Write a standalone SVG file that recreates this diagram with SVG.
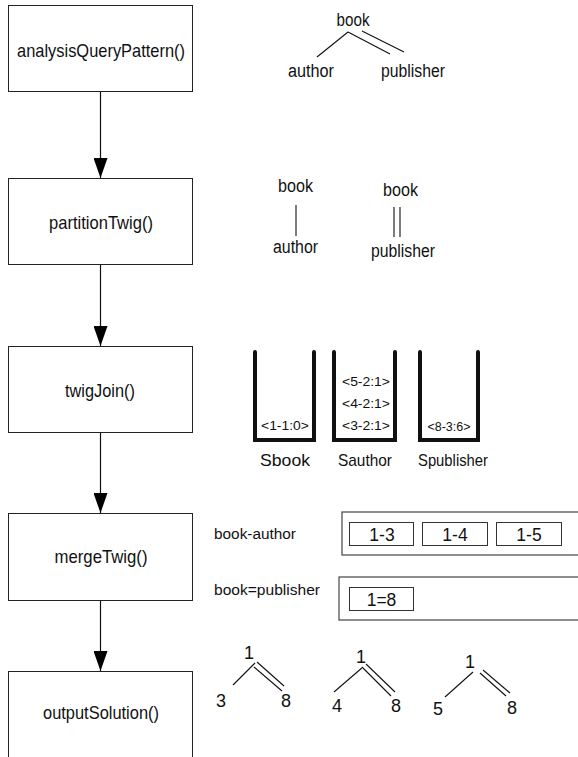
<svg xmlns="http://www.w3.org/2000/svg" width="578" height="757" viewBox="0 0 578 757">
  <style>
    text { font-family: "Liberation Sans", Arial, sans-serif; fill: #111; }
    .step rect { fill: #fff; stroke: #222; stroke-width: 1; }
    .step text { font-size: 19px; text-anchor: middle; }
    .edge { stroke: #111; stroke-width: 1.2; fill: none; }
    .tree text { font-size: 18px; text-anchor: middle; }
    .tree line { stroke: #111; stroke-width: 1.1; }
    .stack path { fill: none; stroke: #111; stroke-width: 4; stroke-linecap: round; stroke-linejoin: miter; }
    .stack .entry { font-size: 13px; text-anchor: middle; }
    .stack .name { font-size: 17px; text-anchor: middle; }
    .list .outer { fill: #fff; stroke: #444; stroke-width: 1.2; }
    .list .cell { fill: #fff; stroke: #333; stroke-width: 1; }
    .list .label { font-size: 15.5px; }
    .list .val { font-size: 17.5px; text-anchor: middle; }
    .num text { font-size: 18px; text-anchor: middle; }
  </style>
  <defs>
    <marker id="arrowBig" viewBox="0 0 20 14" refX="20" refY="7" markerWidth="20" markerHeight="14" markerUnits="userSpaceOnUse" orient="auto">
      <path d="M0,0 L20,7 L0,14 Z" fill="#000"/>
    </marker>
  </defs>

  <!-- pipeline steps -->
  <g id="step-analysis" class="step">
    <rect x="8.5" y="5.5" width="184" height="86"/>
    <text x="101" y="57" textLength="168" lengthAdjust="spacingAndGlyphs">analysisQueryPattern()</text>
  </g>
  <g id="step-partition" class="step">
    <rect x="8.5" y="178.5" width="184" height="86"/>
    <text x="101" y="229" textLength="104" lengthAdjust="spacingAndGlyphs">partitionTwig()</text>
  </g>
  <g id="step-twigjoin" class="step">
    <rect x="8.5" y="346.5" width="184" height="86"/>
    <text x="100" y="397" textLength="70" lengthAdjust="spacingAndGlyphs">twigJoin()</text>
  </g>
  <g id="step-merge" class="step">
    <rect x="8.5" y="513.5" width="184" height="87"/>
    <text x="101" y="563" textLength="93" lengthAdjust="spacingAndGlyphs">mergeTwig()</text>
  </g>
  <g id="step-output" class="step">
    <rect x="8.5" y="671.5" width="184" height="100"/>
    <text x="101" y="719" textLength="116" lengthAdjust="spacingAndGlyphs">outputSolution()</text>
  </g>

  <!-- flow between steps -->
  <g id="connectors">
    <line class="edge" x1="100.5" y1="92" x2="100.5" y2="178" marker-end="url(#arrowBig)"/>
    <line class="edge" x1="100.5" y1="265" x2="100.5" y2="346" marker-end="url(#arrowBig)"/>
    <line class="edge" x1="100.5" y1="433" x2="100.5" y2="513" marker-end="url(#arrowBig)"/>
    <line class="edge" x1="100.5" y1="601" x2="100.5" y2="671" marker-end="url(#arrowBig)"/>
  </g>

  <!-- query twig -->
  <g id="query-twig" class="tree">
    <text x="353" y="26" textLength="33" lengthAdjust="spacingAndGlyphs">book</text>
    <text x="311" y="77" textLength="46" lengthAdjust="spacingAndGlyphs">author</text>
    <text x="413" y="77" textLength="64" lengthAdjust="spacingAndGlyphs">publisher</text>
    <line x1="348" y1="32" x2="317" y2="57"/>
    <line x1="348" y1="32" x2="390" y2="54"/>
    <line x1="362" y1="31" x2="404" y2="52"/>
  </g>

  <!-- partitioned sub-twigs -->
  <g id="part-book-author" class="tree">
    <text x="295.5" y="192" textLength="35" lengthAdjust="spacingAndGlyphs">book</text>
    <line x1="296" y1="205" x2="296" y2="236"/>
    <text x="295.5" y="253" textLength="45" lengthAdjust="spacingAndGlyphs">author</text>
  </g>
  <g id="part-book-publisher" class="tree">
    <text x="400.5" y="196" textLength="35" lengthAdjust="spacingAndGlyphs">book</text>
    <line x1="394" y1="207" x2="394" y2="237"/>
    <line x1="400" y1="207" x2="400" y2="237"/>
    <text x="403" y="257" textLength="64" lengthAdjust="spacingAndGlyphs">publisher</text>
  </g>

  <!-- stacks -->
  <g id="stack-book" class="stack">
    <path d="M255,352 V440 H314 V352"/>
    <text class="entry" x="285" y="430" textLength="48" lengthAdjust="spacingAndGlyphs">&lt;1-1:0&gt;</text>
    <text class="name" x="285" y="466" textLength="50" lengthAdjust="spacingAndGlyphs">Sbook</text>
  </g>
  <g id="stack-author" class="stack">
    <path d="M334,352 V440 H395 V352"/>
    <text class="entry" x="366" y="386" textLength="48" lengthAdjust="spacingAndGlyphs">&lt;5-2:1&gt;</text>
    <text class="entry" x="366" y="408" textLength="48" lengthAdjust="spacingAndGlyphs">&lt;4-2:1&gt;</text>
    <text class="entry" x="366" y="430" textLength="48" lengthAdjust="spacingAndGlyphs">&lt;3-2:1&gt;</text>
    <text class="name" x="365" y="466" textLength="54" lengthAdjust="spacingAndGlyphs">Sauthor</text>
  </g>
  <g id="stack-publisher" class="stack">
    <path d="M420,352 V440 H478 V352"/>
    <text class="entry" x="449" y="431" textLength="43" lengthAdjust="spacingAndGlyphs">&lt;8-3:6&gt;</text>
    <text class="name" x="453" y="466" textLength="70" lengthAdjust="spacingAndGlyphs">Spublisher</text>
  </g>

  <!-- merged path lists -->
  <g id="list-book-author" class="list">
    <text class="label" x="214" y="539" textLength="82" lengthAdjust="spacingAndGlyphs">book-author</text>
    <rect class="outer" x="342" y="512" width="250" height="43"/>
    <rect class="cell" x="349.5" y="522.5" width="64" height="23"/>
    <text class="val" x="382" y="541">1-3</text>
    <rect class="cell" x="422.5" y="522.5" width="65" height="23"/>
    <text class="val" x="455" y="541">1-4</text>
    <rect class="cell" x="496.5" y="522.5" width="65" height="23"/>
    <text class="val" x="529" y="541">1-5</text>
  </g>
  <g id="list-book-publisher" class="list">
    <text class="label" x="214" y="595" textLength="106" lengthAdjust="spacingAndGlyphs">book=publisher</text>
    <rect class="outer" x="339" y="577" width="250" height="43"/>
    <rect class="cell" x="349.5" y="587.5" width="64" height="23"/>
    <text class="val" x="381.5" y="606">1=8</text>
  </g>

  <!-- output solutions -->
  <g id="solution-1-3-8" class="tree num">
    <text x="249" y="659">1</text>
    <line x1="255" y1="663" x2="233" y2="685"/>
    <line x1="254" y1="667" x2="282" y2="691"/>
    <line x1="257" y1="662" x2="284" y2="686"/>
    <text x="221" y="707">3</text>
    <text x="286" y="707">8</text>
  </g>
  <g id="solution-1-4-8" class="tree num">
    <text x="361" y="663">1</text>
    <line x1="363" y1="667" x2="334" y2="692"/>
    <line x1="363" y1="668" x2="391" y2="696"/>
    <line x1="366" y1="664" x2="395" y2="692"/>
    <text x="337" y="712">4</text>
    <text x="396" y="712">8</text>
  </g>
  <g id="solution-1-5-8" class="tree num">
    <text x="470" y="668">1</text>
    <line x1="473" y1="672" x2="445" y2="697"/>
    <line x1="480" y1="673" x2="506" y2="696"/>
    <line x1="483" y1="670" x2="510" y2="693"/>
    <text x="438" y="715">5</text>
    <text x="512" y="714">8</text>
  </g>
</svg>
